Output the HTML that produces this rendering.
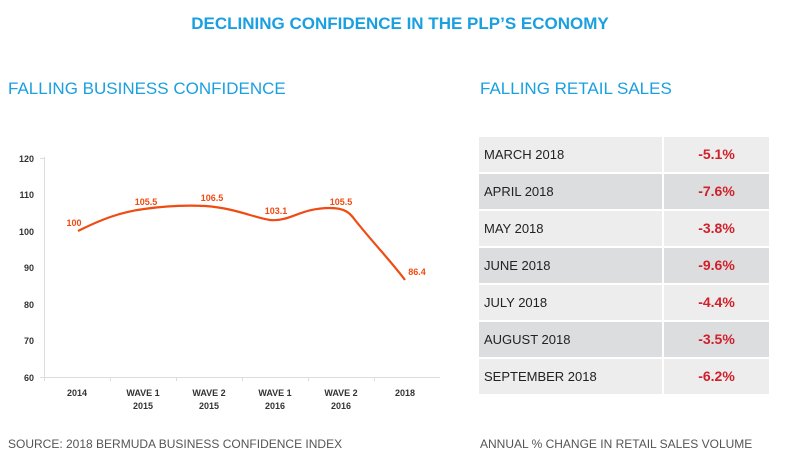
<!DOCTYPE html>
<html><head><style>
body{margin:0;width:800px;height:472px;background:#fff;font-family:"Liberation Sans",sans-serif;position:relative;overflow:hidden}
.t{position:absolute;white-space:nowrap}
.row{position:absolute;left:479px;width:290px;height:35px;}
.row .a{position:absolute;left:0;top:0;width:183px;height:35px;font-size:13px;color:#222;line-height:35px;padding-left:5px;box-sizing:border-box}
.row .b{position:absolute;left:185px;top:0;width:105px;height:35px;font-size:14px;font-weight:bold;color:#d0202a;line-height:35px;text-align:center}
.l .a,.l .b{background:#ededed}
.d .a,.d .b{background:#dcdddf}
</style></head><body>
<div class="t" style="left:0;width:800px;text-align:center;top:14px;font-size:17px;font-weight:bold;color:#1aa0e0">DECLINING CONFIDENCE IN THE PLP’S ECONOMY</div>
<div class="t" style="left:8px;top:79px;font-size:17px;color:#1aa0e0">FALLING BUSINESS CONFIDENCE</div>
<div class="t" style="left:480px;top:79px;font-size:17px;color:#1aa0e0">FALLING RETAIL SALES</div>
<div class="t" style="left:8px;top:437px;font-size:12px;color:#555">SOURCE: 2018 BERMUDA BUSINESS CONFIDENCE INDEX</div>
<div class="t" style="left:480px;top:437px;font-size:12px;color:#555">ANNUAL % CHANGE IN RETAIL SALES VOLUME</div>
<svg width="800" height="472" style="position:absolute;left:0;top:0" font-family="Liberation Sans" font-weight="bold">
<g stroke="#ddd" stroke-width="1">
<line x1="44.5" y1="157" x2="44.5" y2="381"/><line x1="40" y1="377.5" x2="440" y2="377.5"/>
<line x1="40" y1="158.5" x2="44" y2="158.5"/>
<line x1="110.5" y1="377" x2="110.5" y2="381"/><line x1="176.5" y1="377" x2="176.5" y2="381"/><line x1="242.5" y1="377" x2="242.5" y2="381"/><line x1="308.5" y1="377" x2="308.5" y2="381"/><line x1="374.5" y1="377" x2="374.5" y2="381"/>
</g>
<g font-size="9" fill="#333" text-anchor="end">
<text x="34" y="162">120</text><text x="34" y="198">110</text><text x="34" y="235">100</text><text x="34" y="271">90</text><text x="34" y="308">80</text><text x="34" y="344">70</text><text x="34" y="381">60</text>
</g>
<g font-size="9" fill="#333" text-anchor="middle">
<text x="77" y="396">2014</text>
<text x="143" y="396">WAVE 1</text><text x="143" y="409">2015</text>
<text x="209" y="396">WAVE 2</text><text x="209" y="409">2015</text>
<text x="275" y="396">WAVE 1</text><text x="275" y="409">2016</text>
<text x="341" y="396">WAVE 2</text><text x="341" y="409">2016</text>
<text x="405" y="396">2018</text>
</g>
<path d="M78,231 C100,220 120,212 144,209 C165,206 185,205 205,206 C235,208 255,218 270,220 C290,222 300,208 330,208 C345,208 350,213 355,220 C375,245 390,260 405,280" fill="none" stroke="#ef4b12" stroke-width="2.2"/>
<g font-size="9" fill="#ef4b12" text-anchor="middle">
<text x="74" y="226">100</text><text x="146" y="205">105.5</text><text x="212" y="201">106.5</text><text x="276" y="214">103.1</text><text x="341" y="205">105.5</text><text x="417" y="275">86.4</text>
</g>
</svg>
<div class="row l" style="top:137px"><div class="a">MARCH 2018</div><div class="b">-5.1%</div></div>
<div class="row d" style="top:174px"><div class="a">APRIL 2018</div><div class="b">-7.6%</div></div>
<div class="row l" style="top:211px"><div class="a">MAY 2018</div><div class="b">-3.8%</div></div>
<div class="row d" style="top:248px"><div class="a">JUNE 2018</div><div class="b">-9.6%</div></div>
<div class="row l" style="top:285px"><div class="a">JULY 2018</div><div class="b">-4.4%</div></div>
<div class="row d" style="top:322px"><div class="a">AUGUST 2018</div><div class="b">-3.5%</div></div>
<div class="row l" style="top:359px"><div class="a">SEPTEMBER 2018</div><div class="b">-6.2%</div></div>
</body></html>
